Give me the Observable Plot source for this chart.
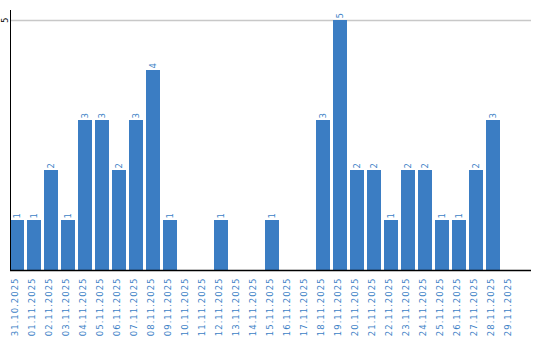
<!DOCTYPE html>
<html>
<head>
<meta charset="utf-8">
<script src="https://cdn.jsdelivr.net/npm/d3@7"></script>
<script src="https://cdn.jsdelivr.net/npm/@observablehq/plot@0.6"></script>
<style>
  html, body { margin: 0; padding: 0; background: #fff; }
</style>
</head>
<body>
<div id="chart"></div>
<script>
const days = ["31.10.2025","01.11.2025","02.11.2025","03.11.2025","04.11.2025","05.11.2025","06.11.2025","07.11.2025","08.11.2025","09.11.2025","10.11.2025","11.11.2025","12.11.2025","13.11.2025","14.11.2025","15.11.2025","16.11.2025","17.11.2025","18.11.2025","19.11.2025","20.11.2025","21.11.2025","22.11.2025","23.11.2025","24.11.2025","25.11.2025","26.11.2025","27.11.2025","28.11.2025","29.11.2025"];
const counts = [1,1,2,1,3,3,2,3,4,1,0,0,1,0,0,1,0,0,3,5,2,2,1,2,2,1,1,2,3,0];
const yTicks = [5];

const data = days.map((d, i) => ({day: d, value: counts[i]}));
const barColor = "#3b7dc3";
const textColor = "#3c7fc6";

const chart = Plot.plot({
  width: 540,
  height: 340,
  marginLeft: 10,
  marginRight: 9,
  marginTop: 10,
  marginBottom: 70,
  style: {fontFamily: "DejaVu Sans", fontSize: "8.5px", letterSpacing: "1px", background: "#fff"},
  x: {type: "band", domain: days, range: [10, 517], paddingInner: 3/17, paddingOuter: 0, align: 0, axis: null},
  y: {domain: [0, 5.2], axis: null},
  marks: [
    Plot.ruleY(yTicks, {stroke: "#c8c8c8", strokeWidth: 1.5}),
    Plot.barY(data, {x: "day", y: "value", fill: barColor}),
    Plot.frame({anchor: "left", stroke: "#000", strokeWidth: 1}),
    Plot.ruleY([0], {stroke: "#000", strokeWidth: 1.5}),
    Plot.text(data.filter(d => d.value > 0), {x: "day", y: "value", text: d => String(d.value), rotate: -90, textAnchor: "start", dy: -2, fill: textColor}),
    Plot.text(yTicks, {y: d => d, text: d => String(d), frameAnchor: "left", dx: -5, dy: 2.5, rotate: -90, fill: "#000"}),
    Plot.text(days, {x: d => d, text: d => d, frameAnchor: "bottom", rotate: -90, textAnchor: "end", dy: 7, fill: textColor})
  ]
});
document.getElementById("chart").appendChild(chart);
</script>
</body>
</html>
